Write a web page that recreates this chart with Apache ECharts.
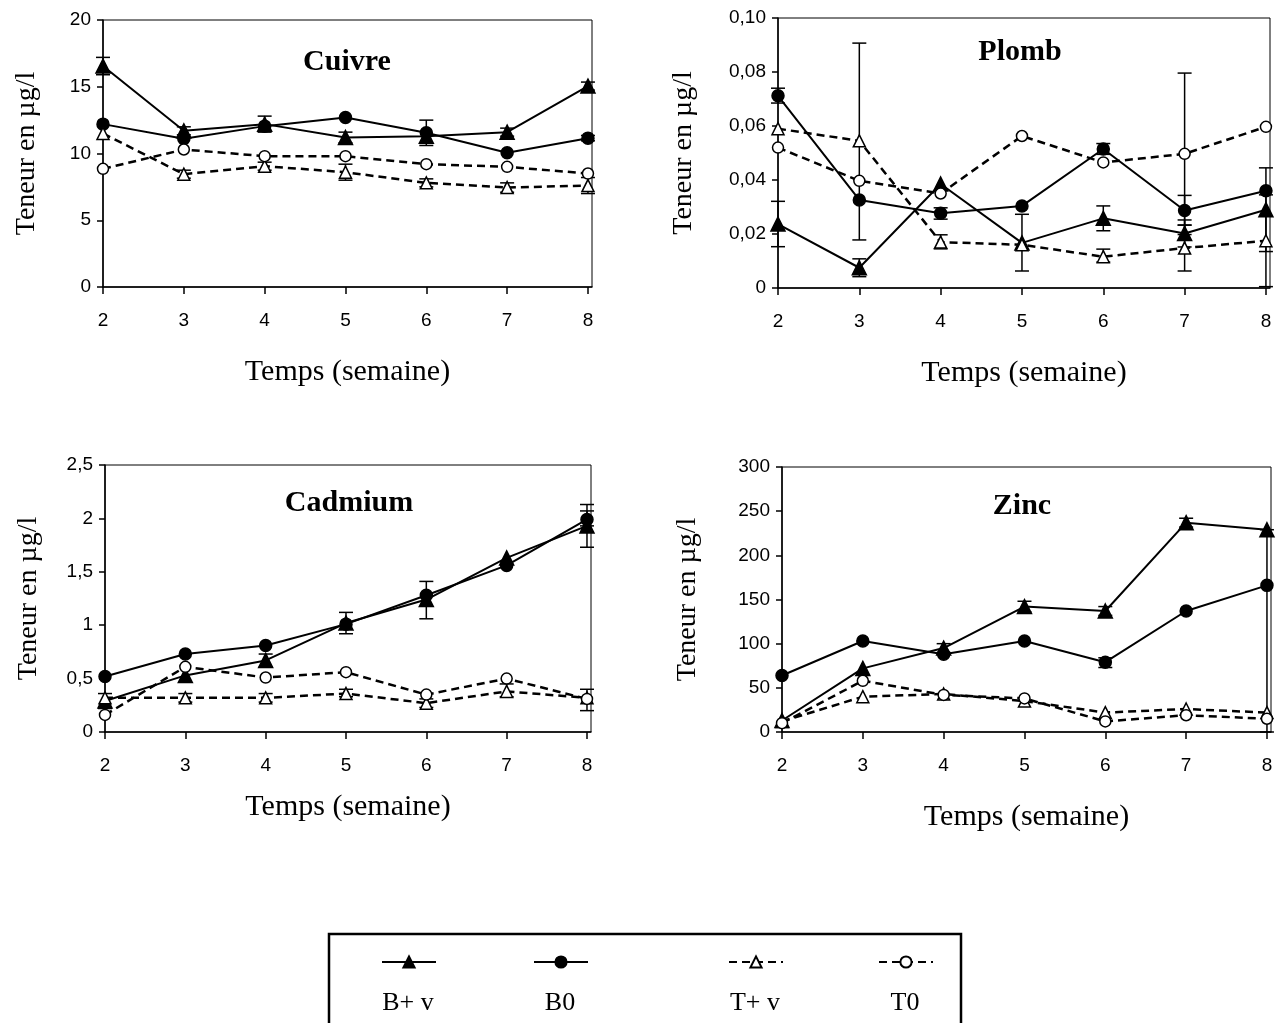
<!DOCTYPE html>
<html lang="fr">
<head>
<meta charset="utf-8" />
<title>Teneurs en métaux</title>
<style>
	html, body { margin: 0; padding: 0; background: #fff; }
	#main { width: 1281px; height: 1023px; }
</style>
</head>
<body>
<div id="main"></div>
<script src="https://cdn.jsdelivr.net/npm/echarts@6/dist/echarts.min.js"></script>
<script>
// semaines
const weeks = [2, 3, 4, 5, 6, 7, 8];
const seriesNames = ['B+ v', 'B0', 'T+ v', 'T0'];

// Cuivre
const cuivreBv = [16.55, 11.7, 12.2, 11.2, 11.3, 11.6, 15.05];
const cuivreB0 = [12.2, 11.1, 12.05, 12.7, 11.55, 10.05, 11.15];
const cuivreTv = [11.5, 8.45, 9.05, 8.6, 7.8, 7.45, 7.6];
const cuivreT0 = [8.85, 10.3, 9.8, 9.8, 9.2, 9.0, 8.5];
// barres d'erreur : [semaine, bas, haut]
const cuivreErr = [[2, 15.9, 17.2], [3, 11.4, 12.0], [3, 8.15, 8.75], [4, 11.6, 12.8], [4, 8.75, 9.35],
	[5, 10.8, 11.6], [5, 8.0, 9.2], [6, 10.6, 12.5], [6, 7.5, 8.1], [7, 11.3, 11.9], [7, 7.1, 7.8],
	[8, 14.75, 15.35], [8, 10.95, 11.35], [8, 7.0, 8.2]];

// Plomb
const plombBv = [0.0237, 0.0075, 0.0385, 0.0167, 0.0258, 0.0202, 0.029];
const plombB0 = [0.0712, 0.0326, 0.0277, 0.0304, 0.0515, 0.0287, 0.036];
const plombTv = [0.059, 0.0545, 0.017, 0.016, 0.0116, 0.0148, 0.0175];
const plombT0 = [0.052, 0.0397, 0.035, 0.0563, 0.0465, 0.0497, 0.0597];
const plombErr = [[2, 0.0153, 0.0321], [2, 0.0685, 0.074], [3, 0.0178, 0.0907], [3, 0.0042, 0.0108],
	[4, 0.0145, 0.0197], [4, 0.0255, 0.0297], [5, 0.0063, 0.0273], [6, 0.0495, 0.0535],
	[6, 0.0212, 0.0304], [6, 0.0096, 0.0144], [7, 0.0198, 0.0796], [7, 0.0233, 0.0343],
	[7, 0.0063, 0.0233], [7, 0.0152, 0.0252], [8, 0.0135, 0.0445], [8, 0.0005, 0.0345]];

// Cadmium
const cadmiumBv = [0.29, 0.53, 0.67, 1.02, 1.24, 1.63, 1.93];
const cadmiumB0 = [0.52, 0.73, 0.81, 1.01, 1.28, 1.56, 1.99];
const cadmiumTv = [0.32, 0.32, 0.32, 0.36, 0.27, 0.38, 0.32];
const cadmiumT0 = [0.16, 0.61, 0.51, 0.56, 0.35, 0.5, 0.31];
const cadmiumErr = [[2, 0.22, 0.36], [3, 0.28, 0.36], [4, 0.61, 0.73], [4, 0.28, 0.36], [5, 0.92, 1.12],
	[5, 0.33, 0.40], [6, 1.06, 1.41], [6, 0.23, 0.31], [7, 0.33, 0.45], [8, 1.73, 2.13],
	[8, 1.93, 2.07], [8, 0.20, 0.40]];

// Zinc
const zincBv = [13, 72, 95, 142, 137, 237, 229];
const zincB0 = [64, 103, 88, 103, 79, 137, 166];
const zincTv = [12, 40, 43, 35, 22, 26, 22];
const zincT0 = [10, 58, 42, 38, 12, 19, 15];
const zincErr = [[4, 90, 100], [5, 136, 148], [6, 73, 84], [6, 132, 142], [7, 232, 242], [8, 0, 229]];

// panneaux : [titre, valeurs, erreurs, axe y]
const panels = [
	{ title: 'Cuivre', data: [cuivreBv, cuivreB0, cuivreTv, cuivreT0], err: cuivreErr,
	  max: 20, interval: 5, grid: [103, 20, 489, 267], titlePos: [347, 62], yGap: 62, xGap: 70 },
	{ title: 'Plomb', data: [plombBv, plombB0, plombTv, plombT0], err: plombErr,
	  max: 0.1, interval: 0.02, grid: [778, 18, 492, 270], titlePos: [1020, 52], yGap: 80, xGap: 70 },
	{ title: 'Cadmium', data: [cadmiumBv, cadmiumB0, cadmiumTv, cadmiumT0], err: cadmiumErr,
	  max: 2.5, interval: 0.5, grid: [105, 465, 486, 267], titlePos: [349, 503], yGap: 62, xGap: 60 },
	{ title: 'Zinc', data: [zincBv, zincB0, zincTv, zincT0], err: zincErr,
	  max: 300, interval: 50, grid: [782, 467, 489, 265], titlePos: [1022, 506], yGap: 80, xGap: 70 }
];

const serif = 'Liberation Serif';
const sans = 'Liberation Sans';

// style de chaque serie
const seriesStyle = [
	{ symbol: 'triangle', symbolSize: 14, fill: '#000', dash: 'solid', width: 2 },
	{ symbol: 'circle', symbolSize: 12, fill: '#000', dash: 'solid', width: 2 },
	{ symbol: 'triangle', symbolSize: 12, fill: '#fff', dash: [8, 5], width: 2.5 },
	{ symbol: 'circle', symbolSize: 11, fill: '#fff', dash: [8, 5], width: 2.5 }
];

// barres d'erreur
function renderErr(params, api) {
	const x = api.value(0);
	const lo = api.coord([x, api.value(1)]);
	const hi = api.coord([x, api.value(2)]);
	const w = 7;
	const style = { stroke: '#000', lineWidth: 1.5 };
	return {
		type: 'group',
		children: [
			{ type: 'line', shape: { x1: lo[0], y1: lo[1], x2: hi[0], y2: hi[1] }, style: style },
			{ type: 'line', shape: { x1: lo[0] - w, y1: lo[1], x2: lo[0] + w, y2: lo[1] }, style: style },
			{ type: 'line', shape: { x1: hi[0] - w, y1: hi[1], x2: hi[0] + w, y2: hi[1] }, style: style }
		]
	};
}

function fmtComma(v) {
	if (v === 0) return '0';
	if (this && this.two) return v.toFixed(2).replace('.', ',');
	return String(+v.toFixed(4)).replace('.', ',');
}

const grids = [], xAxes = [], yAxes = [], series = [], graphics = [];

panels.forEach(function(p, i) {
	grids.push({
		left: p.grid[0], top: p.grid[1], width: p.grid[2], height: p.grid[3],
		show: true, borderColor: '#000', borderWidth: 1, backgroundColor: 'transparent'
	});
	xAxes.push({
		gridIndex: i, type: 'value', min: 2, max: 8.05,
		name: 'Temps (semaine)', nameLocation: 'middle', nameGap: p.xGap,
		nameTextStyle: { fontFamily: serif, fontSize: 30, color: '#000' },
		axisLine: { lineStyle: { color: '#000', width: 1.5 } },
		axisTick: { length: 7, lineStyle: { color: '#000', width: 1.5 }, customValues: weeks },
		axisLabel: { customValues: weeks, margin: 24, fontFamily: sans, fontSize: 19, color: '#000' },
		splitLine: { show: false }
	});
	const two = p.title === 'Plomb';
	yAxes.push({
		gridIndex: i, type: 'value', min: 0, max: p.max, interval: p.interval,
		name: 'Teneur en µg/l', nameLocation: 'middle', nameGap: p.yGap,
		nameTextStyle: { fontFamily: serif, fontSize: 28, color: '#000' },
		axisLine: { show: true, lineStyle: { color: '#000', width: 1.5 } },
		axisTick: { show: true, length: 6, lineStyle: { color: '#000', width: 1.5 } },
		axisLabel: {
			margin: 12, fontFamily: sans, fontSize: 19, color: '#000',
			formatter: function(v) { return fmtComma.call({ two: two }, v); }
		},
		splitLine: { show: false }
	});
	// barres d'erreur sous les marqueurs
	series.push({
		name: 'err' + i, type: 'custom', xAxisIndex: i, yAxisIndex: i, z: 1,
		renderItem: renderErr, encode: { x: 0, y: [1, 2] }, data: p.err, silent: true
	});
	p.data.forEach(function(vals, k) {
		const s = seriesStyle[k];
		series.push({
			name: seriesNames[k], type: 'line', xAxisIndex: i, yAxisIndex: i, z: 2,
			symbol: s.symbol, symbolSize: s.symbolSize, showAllSymbol: true,
			itemStyle: { color: s.fill, borderColor: '#000', borderWidth: 1.5 },
			lineStyle: { color: '#000', width: s.width, type: s.dash },
			emphasis: { disabled: true },
			data: weeks.map(function(w, j) { return [w, vals[j]]; })
		});
	});
	graphics.push({
		type: 'text', x: p.titlePos[0], y: p.titlePos[1],
		style: { text: p.title, font: 'bold 30px "Liberation Serif"', fill: '#000',
			textAlign: 'center', textVerticalAlign: 'middle' }
	});
});

// légende : cadre + libellés sous les icônes
const legendX = [408, 560, 755, 905];
graphics.push({
	type: 'rect', shape: { x: 329, y: 934, width: 632, height: 120 },
	style: { fill: 'none', stroke: '#000', lineWidth: 2.5 }
});
const legends = seriesNames.map(function(n, k) {
	graphics.push({
		type: 'text', x: legendX[k], y: 1003,
		style: { text: n, font: '26px "Liberation Serif"', fill: '#000',
			textAlign: 'center', textVerticalAlign: 'middle' }
	});
	return {
		data: [n], left: legendX[k] - 27, top: 955, padding: 0,
		itemWidth: 54, itemHeight: 14, formatter: function() { return ''; }
	};
});

const chart = echarts.init(document.getElementById('main'));
chart.setOption({
	backgroundColor: '#fff',
	animation: false,
	grid: grids,
	xAxis: xAxes,
	yAxis: yAxes,
	legend: legends,
	graphic: graphics,
	series: series
});
window.onresize = function() { chart.resize(); };
</script>
</body>
</html>
